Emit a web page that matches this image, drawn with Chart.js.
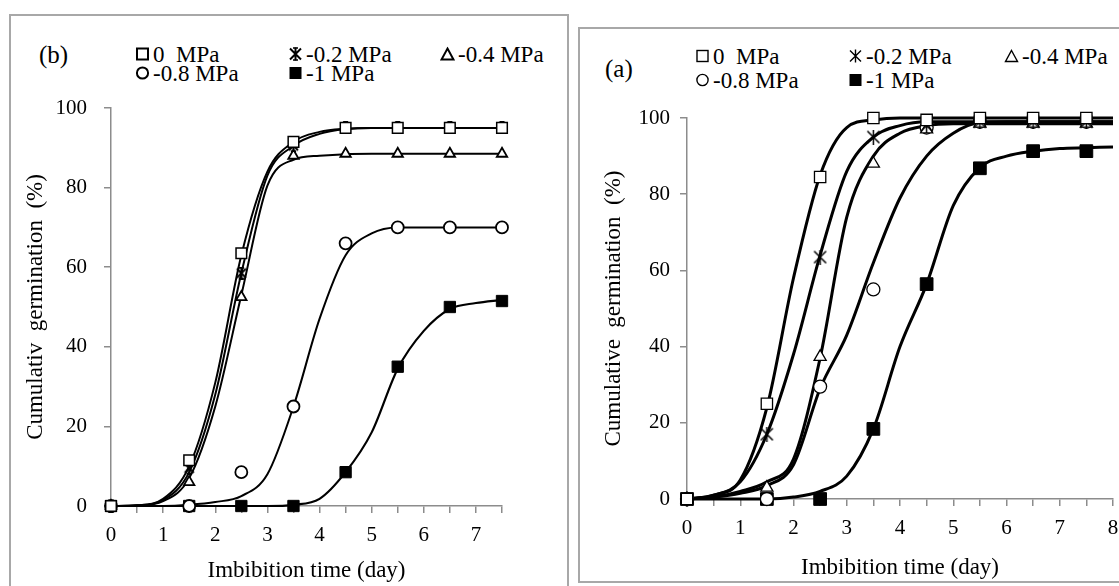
<!DOCTYPE html>
<html>
<head>
<meta charset="utf-8">
<script src="https://cdn.jsdelivr.net/npm/chart.js@4.4.1/dist/chart.umd.min.js"></script>
<style>
body{margin:0;width:1119px;height:586px;overflow:hidden;background:#fff;position:relative;font-family:"Liberation Serif","Times New Roman",serif;color:#000}
.box{position:absolute;border:2px solid #a8a8a8;box-sizing:border-box}
canvas{position:absolute}
.tag{position:absolute;font-size:25px;line-height:1;white-space:pre}
.leg{position:absolute;font-size:23px;line-height:1;white-space:pre;display:flex;align-items:center;transform:translateY(-50%)}
.leg svg{margin-right:3px}
</style>
</head>
<body>
<div class="box" style="left:9px;top:14px;width:560px;height:610px"></div>
<div class="box" style="left:578px;top:27px;width:570px;height:556px"></div>
<div class="tag" style="left:39px;top:42px">(b)</div>
<div class="tag" style="left:605px;top:56px">(a)</div>
<div id="legB"></div>
<div id="legA"></div>
<canvas id="chartB" width="555" height="508" style="left:11px;top:78px"></canvas>
<canvas id="chartA" width="560" height="488" style="left:582px;top:95px"></canvas>
<script>
// legend labels
const seriesLabels = ['0  MPa', '-0.2 MPa', '-0.4 MPa', '-0.8 MPa', '-1 MPa'];

// measured days (markers)
const days = [0, 1.5, 2.5, 3.5, 4.5, 5.5, 6.5, 7.5];

// panel (b) observed germination %
const b0  = [0, 11.5, 63.5, 91.5, 95, 95, 95, 95];
const b02 = [0, 9.5, 58.5, 90.5, 95, 95, 95, 95];
const b04 = [0, 6, 52.5, 88, 88.5, 88.5, 88.5, 88.5];
const b08 = [0, 0, 8.5, 25, 66, 70, 70, 70];
const b1  = [0, 0, 0, 0, 8.5, 35, 50, 51.5];

// panel (b) fitted curves, every half day
const fitDaysB = [0, 0.5, 1, 1.5, 2, 2.5, 3, 3.5, 4, 4.5, 5, 5.5, 6, 6.5, 7, 7.5];
const fb0  = [0, 0.2, 1.8, 10, 31, 63, 84, 91.5, 94, 94.8, 95, 95, 95, 95, 95, 95];
const fb02 = [0, 0.2, 1.5, 8.5, 28, 58.5, 83, 90.5, 93.5, 94.7, 95, 95, 95, 95, 95, 95];
const fb04 = [0, 0.1, 1.2, 7, 25, 53, 80.5, 87, 88, 88.4, 88.5, 88.5, 88.5, 88.5, 88.5, 88.5];
const fb08 = [0, 0, 0, 0.3, 1, 2.5, 8, 25, 47, 63, 68.5, 70, 70, 70, 70, 70];
const fb1  = [0, 0, 0, 0, 0, 0, 0, 0.3, 1.8, 8.5, 18.5, 34.5, 44, 49.5, 51, 51.8];

// panel (a) observed germination %
const a0  = [0, 25, 84.5, 100, 99.5, 100, 100, 100];
const a02 = [0, 17, 63.5, 95, 98, 99, 99, 99];
const a04 = [0, 3, 37.3, 88, 97, 98.5, 98.5, 98.5];
const a08 = [0, 0, 29.5, 55, 97.5, 99, 99, 99];
const a1  = [0, 0, 0, 18.4, 56.4, 86.8, 91.3, 91.3];

// panel (a) fitted curves
const fitDaysA = [0, 0.5, 1, 1.5, 2, 2.5, 3, 3.5, 4, 4.5, 5, 5.5, 6, 6.5, 7, 7.5, 8];
const fa0  = [0, 1, 5, 24, 58, 85, 97.5, 99.5, 100, 100, 100, 100, 100, 100, 100, 100, 100];
const fa02 = [0, 1, 4.5, 17, 38, 64, 86, 95, 98, 99, 99, 99, 99, 99, 99, 99, 99];
const fa04 = [0, 0.5, 2, 4.5, 10.5, 37, 74, 90, 96, 98, 98.5, 98.5, 98.5, 98.5, 98.5, 98.5, 98.5];
const fa08 = [0, 0.5, 1.5, 3.5, 9, 29, 43, 62, 79, 90, 96, 98.8, 99, 99, 99, 99, 99];
const fa1  = [0, 0, 0, 0, 0.5, 2, 6, 18.4, 40, 56.4, 77, 87, 90, 91.3, 92, 92.2, 92.4];

const xTicksB = [0, 0.5, 1, 1.5, 2, 2.5, 3, 3.5, 4, 4.5, 5, 5.5, 6, 6.5, 7, 7.5];
const xTicksA = [0, 0.5, 1, 1.5, 2, 2.5, 3, 3.5, 4, 4.5, 5, 5.5, 6, 6.5, 7, 7.5, 8];
const yTicks = [0, 20, 40, 60, 80, 100];

const FONT = '"Liberation Serif", "Times New Roman", serif';
const AXIS = '#8c8c8c';

function starImg(size, lw, caps) {
  const c = document.createElement('canvas');
  c.width = c.height = size;
  const g = c.getContext('2d');
  g.strokeStyle = '#000';
  g.lineWidth = lw;
  const m = lw, e = size - lw;
  g.beginPath();
  g.moveTo(m, m); g.lineTo(e, e);
  g.moveTo(e, m); g.lineTo(m, e);
  g.moveTo(size / 2, 0); g.lineTo(size / 2, size);
  if (caps) {
    g.moveTo(size * 0.3, lw / 2); g.lineTo(size * 0.7, lw / 2);
    g.moveTo(size * 0.3, size - lw / 2); g.lineTo(size * 0.7, size - lw / 2);
  }
  g.stroke();
  return c;
}

function pts(xs, ys) { return xs.map((x, i) => ({x: x, y: ys[i]})); }

function fitSet(xs, ys, w) {
  return {data: pts(xs, ys), borderColor: '#000', borderWidth: w, pointRadius: 0,
    cubicInterpolationMode: 'monotone', fill: false, order: 1, clip: false};
}
function markSet(ys, style, r, bg, lw) {
  return {data: pts(days, ys), showLine: false, pointStyle: style, pointRadius: r,
    pointBackgroundColor: bg, pointBorderColor: '#000', pointBorderWidth: lw, order: 0, clip: false};
}

function axes(o) {
  const tickFont = {family: FONT, size: 21};
  return {
    x: {type: 'linear', min: 0, max: o.xmax,
      afterBuildTicks: s => { s.ticks = o.xticks.map(v => ({value: v})); },
      afterFit: s => { s.height = o.xHeight; },
      ticks: {autoSkip: false, maxRotation: 0, color: '#000', font: tickFont, padding: 10,
        callback: v => Number.isInteger(v) ? String(v) : ''},
      grid: {drawOnChartArea: false, tickLength: 7, color: AXIS, lineWidth: 1.5},
      border: {color: AXIS, width: 1.5},
      title: {display: true, text: 'Imbibition time (day)', color: '#000',
        font: {family: FONT, size: 23}, padding: {top: 0, bottom: 1}}
    },
    y: {min: 0, max: 100,
      afterBuildTicks: s => { s.ticks = yTicks.map(v => ({value: v})); },
      afterFit: s => { s.width = o.yWidth; },
      ticks: {color: '#000', font: tickFont, padding: o.yPad},
      grid: {drawOnChartArea: false, tickLength: 7, color: AXIS, lineWidth: 1.5},
      border: {color: AXIS, width: 1.5},
      title: {display: true, text: o.yTitle, color: '#000',
        font: {family: FONT, size: 23}, padding: {top: o.yTitleTop, bottom: 0}}
    }
  };
}

const starB = starImg(13, 2, true);
const starA = starImg(15, 1.5, false);

new Chart(document.getElementById('chartB'), {
  type: 'line',
  data: {datasets: [
    markSet(b0, 'rect', 7.5, '#fff', 1.5),
    markSet(b02, starB, 7, '#fff', 1.5),
    markSet(b04, 'triangle', 6, '#fff', 1.8),
    markSet(b08, 'circle', 6, '#fff', 1.8),
    markSet(b1, 'rect', 8, '#000', 1),
    fitSet(fitDaysB, fb0, 2),
    fitSet(fitDaysB, fb02, 2),
    fitSet(fitDaysB, fb04, 2),
    fitSet(fitDaysB, fb08, 2),
    fitSet(fitDaysB, fb1, 2.2)
  ]},
  options: {
    responsive: false, animation: false, events: [],
    layout: {padding: {left: 0, top: 30, right: 64, bottom: 0}},
    plugins: {legend: {display: false}, tooltip: {enabled: false}},
    scales: axes({xmax: 7.5, xticks: xTicksB, yTitle: 'Cumulativ  germination  (%)',
      yWidth: 100, xHeight: 80, yPad: 17, yTitleTop: 11})
  }
});

new Chart(document.getElementById('chartA'), {
  type: 'line',
  data: {datasets: [
    markSet(a0, 'rect', 8, '#fff', 1.3),
    markSet(a02, starA, 8, '#fff', 1.3),
    markSet(a04, 'triangle', 7, '#fff', 1.3),
    markSet(a08, 'circle', 6.5, '#fff', 1.3),
    markSet(a1, 'rect', 9, '#000', 1),
    fitSet(fitDaysA, fa0, 3),
    fitSet(fitDaysA, fa02, 3),
    fitSet(fitDaysA, fa04, 3),
    fitSet(fitDaysA, fa08, 3),
    fitSet(fitDaysA, fa1, 3)
  ]},
  options: {
    responsive: false, animation: false, events: [],
    layout: {padding: {left: 0, top: 23, right: 29, bottom: 0}},
    plugins: {legend: {display: false}, tooltip: {enabled: false}},
    scales: axes({xmax: 8, xticks: xTicksA, yTitle: 'Cumulative  germination  (%)',
      yWidth: 105, xHeight: 84, yPad: 10, yTitleTop: 18})
  }
});

// legends
function sym(kind, bold) {
  const s = bold ? 2 : 1.4;
  let body = '';
  if (kind === 0) body = `<rect x="2" y="2" width="11" height="11" fill="#fff" stroke="#000" stroke-width="${s}"/>`;
  if (kind === 1) body = `<path d="M2 2L13 13M13 2L2 13M7.5 1V14" stroke="#000" stroke-width="${s}" fill="none"/>` +
    (bold ? '<path d="M5 1.5H10M5 13.5H10" stroke="#000" stroke-width="1.5"/>' : '');
  if (kind === 2) body = `<path d="M7.5 2L13.5 13H1.5Z" fill="#fff" stroke="#000" stroke-width="${s}"/>`;
  if (kind === 3) body = `<circle cx="7.5" cy="7.5" r="5.6" fill="#fff" stroke="#000" stroke-width="${s}"/>`;
  if (kind === 4) body = '<rect x="1.5" y="1.5" width="12" height="12" fill="#000"/>';
  return `<svg width="15" height="15" viewBox="0 0 15 15">${body}</svg>`;
}
function buildLegend(id, cols, rows, bold) {
  const el = document.getElementById(id);
  seriesLabels.forEach((t, i) => {
    const d = document.createElement('div');
    d.className = 'leg';
    d.style.left = cols[i % 3] + 'px';
    d.style.top = rows[Math.floor(i / 3)] + 'px';
    d.innerHTML = sym(i, bold) + '<span>' + t + '</span>';
    el.appendChild(d);
  });
}
buildLegend('legB', [135, 288, 440], [54, 73], true);
buildLegend('legA', [695, 848, 1004], [56, 80], false);
</script>
</body>
</html>
